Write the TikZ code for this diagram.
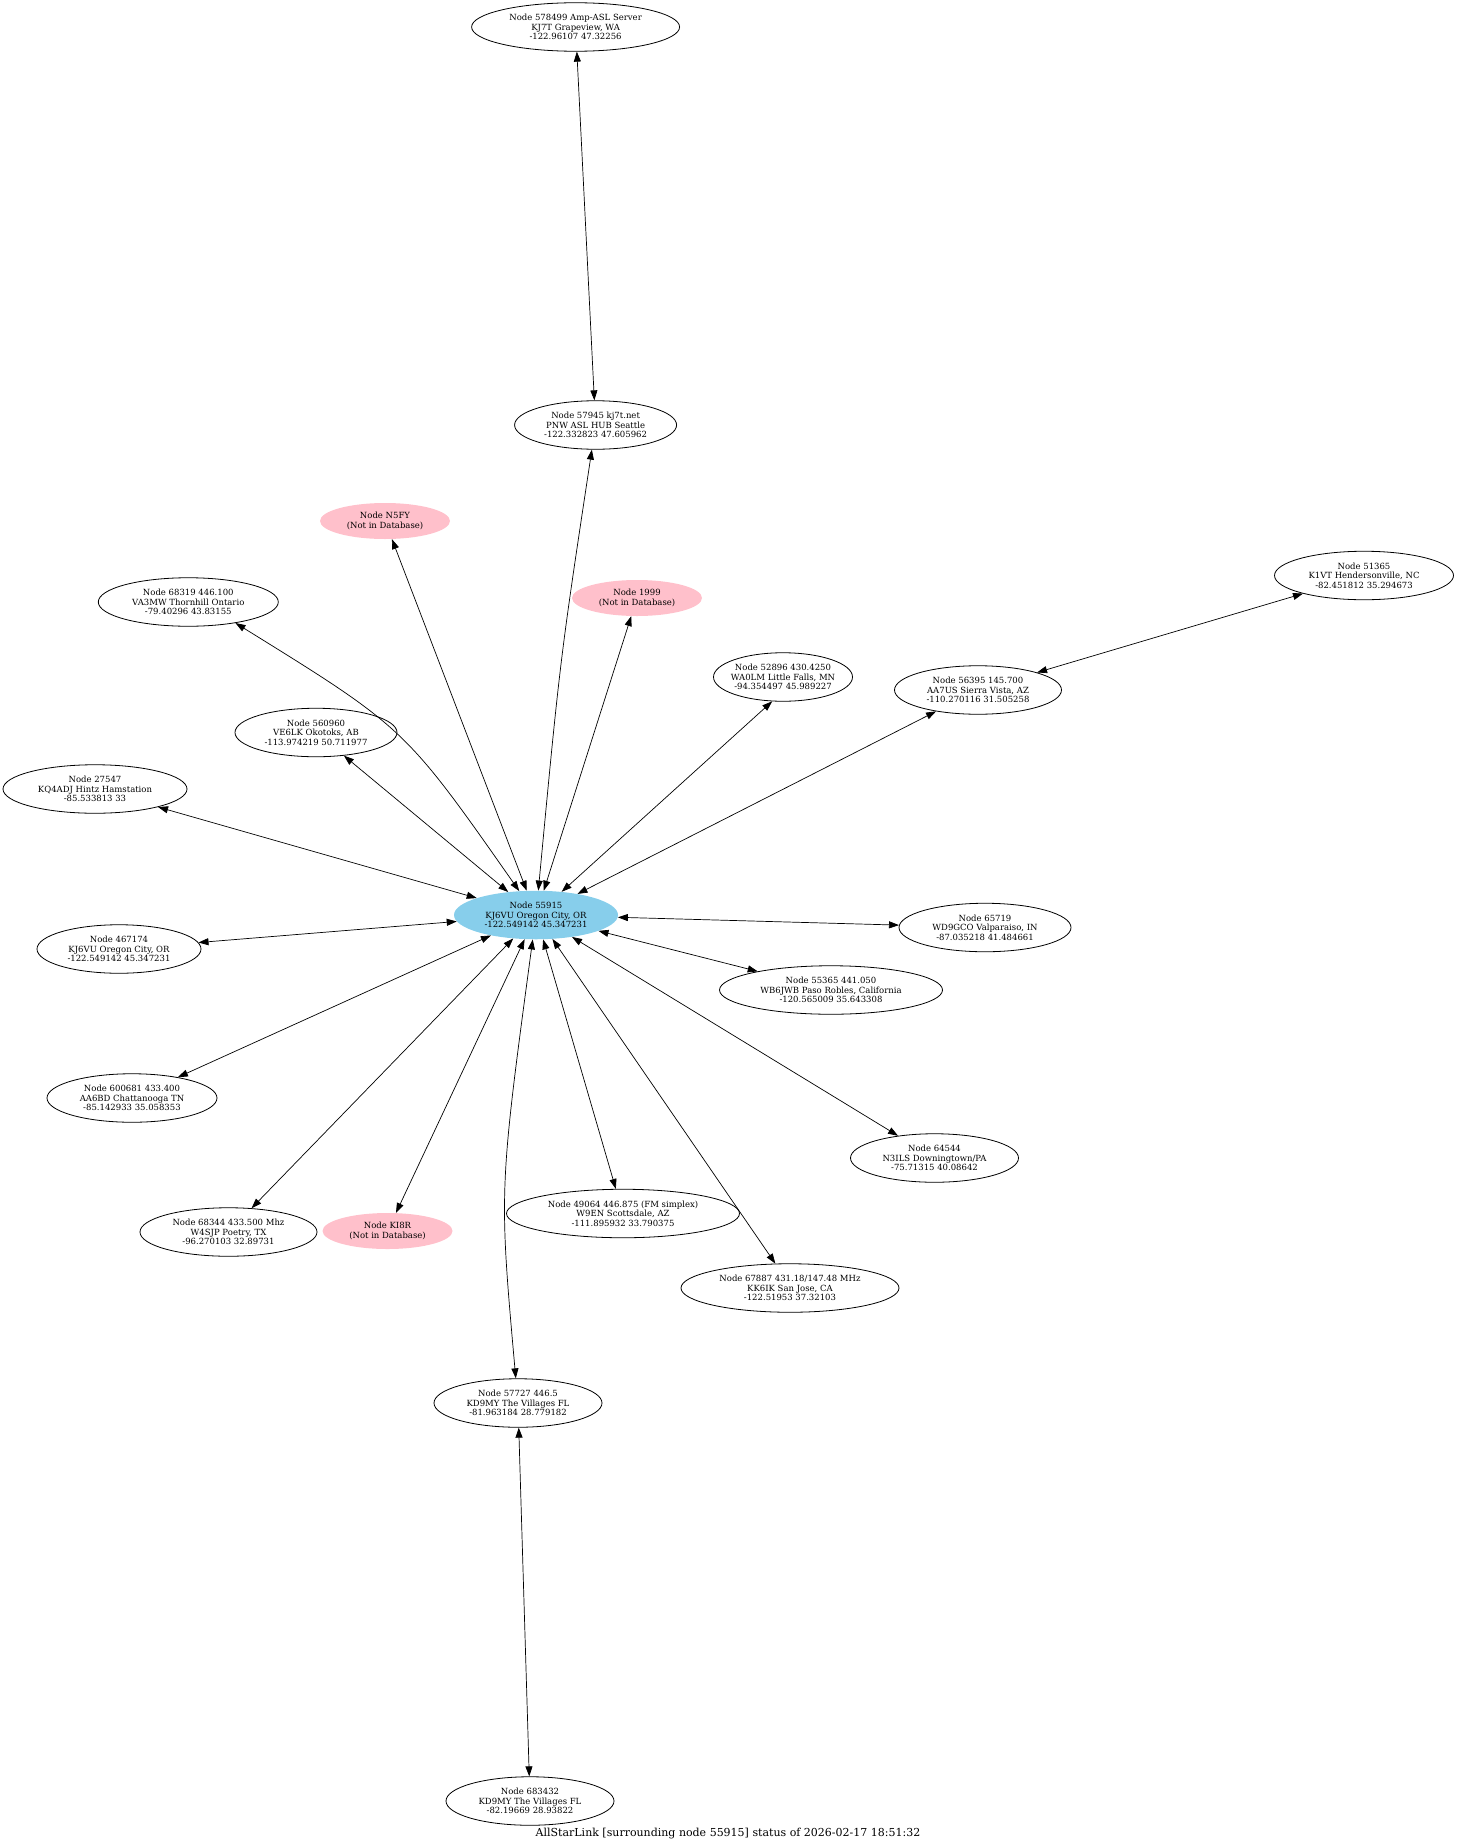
\documentclass[tikz,border=0pt]{standalone}
\usepackage{fontspec}
\setmainfont{DejaVu Serif}
\usetikzlibrary{shapes.geometric,arrows.meta}
\definecolor{nodepink}{HTML}{FFC0CB}
\definecolor{nodeblue}{HTML}{87CEEB}
\tikzset{
  asl/.style={ellipse,inner sep=-10pt,align=center,minimum height=48.5pt,
    font=\fontsize{8.5}{9.33}\selectfont},
  aslnode/.style={asl,draw,line width=0.8pt},
  missing/.style={asl,fill=nodepink,minimum height=36pt},
  hub/.style={asl,fill=nodeblue},
  link/.style={<->,>={Triangle[length=10pt,width=7pt]},line width=0.7pt},
}
\begin{document}
\begin{tikzpicture}[x=1pt,y=-1pt]
  \useasboundingbox (0,0) rectangle (1456,1846);
  \node[hub,minimum width=164pt] (n55915) at (536,915) {Node 55915\\KJ6VU Oregon City, OR\\-122.549142 45.347231};
  \node[aslnode,minimum width=208pt] (n578499) at (575.6,27) {Node 578499 Amp-ASL Server\\KJ7T Grapeview, WA\\-122.96107 47.32256};
  \node[aslnode,minimum width=162pt] (n57945) at (595.6,425) {Node 57945 kj7t.net\\PNW ASL HUB Seattle\\-122.332823 47.605962};
  \node[missing,minimum width=130pt] (nN5FY) at (385,521) {Node N5FY\\(Not in Database)};
  \node[missing,minimum width=130pt] (n1999) at (637,598) {Node 1999\\(Not in Database)};
  \node[aslnode,minimum width=180pt] (n68319) at (188.3,602) {Node 68319 446.100\\VA3MW Thornhill Ontario\\-79.40296 43.83155};
  \node[aslnode,minimum width=179pt] (n51365) at (1364,575.5) {Node 51365\\K1VT Hendersonville, NC\\-82.451812 35.294673};
  \node[aslnode,minimum width=167pt] (n56395) at (978,690) {Node 56395 145.700\\AA7US Sierra Vista, AZ\\-110.270116 31.505258};
  \node[aslnode,minimum width=139pt] (n52896) at (783,677) {Node 52896 430.4250\\WA0LM Little Falls, MN\\-94.354497 45.989227};
  \node[aslnode,minimum width=162pt] (n560960) at (316,732.5) {Node 560960\\VE6LK Okotoks, AB\\-113.974219 50.711977};
  \node[aslnode,minimum width=184pt] (n27547) at (95,789) {Node 27547\\KQ4ADJ Hintz Hamstation\\-85.533813 33};
  \node[aslnode,minimum width=172pt] (n65719) at (985,927.5) {Node 65719\\WD9GCO Valparaiso, IN\\-87.035218 41.484661};
  \node[aslnode,minimum width=223pt] (n55365) at (831,990) {Node 55365 441.050\\WB6JWB Paso Robles, California\\-120.565009 35.643308};
  \node[aslnode,minimum width=164pt] (n467174) at (119,949) {Node 467174\\KJ6VU Oregon City, OR\\-122.549142 45.347231};
  \node[aslnode,minimum width=170pt] (n600681) at (132,1098) {Node 600681 433.400\\AA6BD Chattanooga TN\\-85.142933 35.058353};
  \node[aslnode,minimum width=168pt] (n64544) at (934.5,1158) {Node 64544\\N3ILS Downingtown/PA\\-75.71315 40.08642};
  \node[aslnode,minimum width=177pt] (n68344) at (228.5,1232) {Node 68344 433.500 Mhz\\W4SJP Poetry, TX\\-96.270103 32.89731};
  \node[missing,minimum width=130pt] (nKI8R) at (387.5,1231) {Node KI8R\\(Not in Database)};
  \node[aslnode,minimum width=233pt] (n49064) at (623,1213.5) {Node 49064 446.875 (FM simplex)\\W9EN Scottsdale, AZ\\-111.895932 33.790375};
  \node[aslnode,minimum width=218pt] (n67887) at (790,1288) {Node 67887 431.18/147.48 MHz\\KK6IK San Jose, CA\\-122.51953 37.32103};
  \node[aslnode,minimum width=168pt] (n57727) at (518,1403) {Node 57727 446.5\\KD9MY The Villages FL\\-81.963184 28.779182};
  \node[aslnode,minimum width=168pt] (n683432) at (530,1801) {Node 683432\\KD9MY The Villages FL\\-82.19669 28.93822};
  \node[font=\fontsize{11}{13}\selectfont] (title) at (728,1834) {AllStarLink [surrounding node 55915] status of 2026-02-17 18:51:32};

  \draw[link] (n578499)--(n57945);
  \draw[link] (n57945) .. controls (560,660) .. (n55915);
  \draw[link] (nN5FY)--(n55915);
  \draw[link] (n1999)--(n55915);
  \draw[link] (n68319.-24) .. controls (405,728) .. (n55915);
  \draw[link] (n51365)--(n56395);
  \draw[link] (n56395)--(n55915);
  \draw[link] (n52896.-114)--(n55915);
  \draw[link] (n560960)--(n55915);
  \draw[link] (n27547)--(n55915);
  \draw[link] (n65719)--(n55915);
  \draw[link] (n55365)--(n55915);
  \draw[link] (n467174)--(n55915);
  \draw[link] (n600681)--(n55915);
  \draw[link] (n64544)--(n55915);
  \draw[link] (n68344)--(n55915);
  \draw[link] (nKI8R)--(n55915);
  \draw[link] (n49064)--(n55915);
  \draw[link] (n67887.121)--(n55915);
  \draw[link] (n57727) .. controls (499,1190) .. (n55915);
  \draw[link] (n57727)--(n683432);
\end{tikzpicture}
\end{document}
